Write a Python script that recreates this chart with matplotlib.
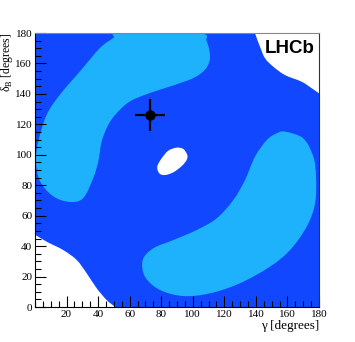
import numpy as np
import matplotlib.pyplot as plt
from matplotlib.path import Path
from matplotlib.patches import PathPatch
from matplotlib.ticker import MultipleLocator

plt.rcParams['mathtext.fontset'] = 'custom'
plt.rcParams['mathtext.rm'] = 'Liberation Serif'

# contour boundaries (gamma, delta_B) in degrees
upper_g = [53.9, 103.3, 108.8, 110.9, 107.7, 100.3, 87.7, 72.9, 60.2, 51.8, 46.5, 42.3,
           40.1, 36.9, 30.6, 22.2, 11.6, 3.2, 0.6, 2.1, 7.4, 15.8, 28.5, 41.2, 49.6]
upper_d = [180.0, 180.0, 174.5, 163.6, 155.9, 150.4, 145.6, 140.6, 135.1, 127.4, 119.8, 108.9,
           95.7, 84.7, 71.6, 69.0, 72.7, 82.6, 95.7, 108.9, 126.3, 139.5, 154.8, 170.2, 176.7]

lower_g = [158.4, 170.0, 176.4, 178.1, 177.5, 172.2, 161.6, 148.9, 129.9, 110.9, 94.0, 79.2,
           69.7, 68.3, 75.0, 87.7, 102.5, 115.2, 125.7, 133.1, 139.4, 146.9, 153.2]
lower_d = [115.2, 110.8, 98.7, 85.6, 68.1, 52.8, 37.4, 26.5, 15.6, 9.0, 7.2, 11.2,
           19.9, 30.9, 38.6, 44.0, 50.6, 58.3, 70.3, 83.4, 98.7, 109.7, 114.1]

hole_g = [96.5, 94.0, 89.8, 84.5, 80.3, 77.5, 78.8, 82.4, 87.7, 93.0, 96.1]
hole_d = [99.9, 103.8, 104.7, 102.7, 97.7, 92.2, 87.8, 86.7, 88.5, 92.6, 96.6]

# excluded corners (open curves, closed through the plot corner)
tr_g = [138.8, 139.4, 142.6, 145.8, 151.0, 158.4, 169.0, 175.4, 180.0, 182.0]
tr_d = [183.0, 180.0, 171.0, 163.4, 157.9, 152.4, 148.0, 143.7, 140.4, 139.3]
bl_g = [-2.0, 0.0, 7.4, 17.9, 26.4, 32.8, 39.1, 45.4, 50.7, 51.5]
bl_d = [48.3, 47.5, 42.9, 37.4, 30.9, 22.1, 12.3, 4.6, 0.0, -2.0]

best_g, best_d = 73.0, 126.0
err_g, err_d = 9.5, 10.6

dark = '#1148ff'
light = '#1eb2fc'


def smooth_path(xs, ys, closed=True, corners=()):
    P = np.column_stack([xs, ys])
    n = len(P)
    verts = [P[0]]
    codes = [Path.MOVETO]
    segs = n if closed else n - 1
    for i in range(segs):
        p0 = P[i - 1] if (closed or i > 0) else P[i]
        p1 = P[i]
        p2 = P[(i + 1) % n]
        p3 = P[(i + 2) % n] if (closed or i + 2 < n) else p2
        verts += [p1 + (p2 - p0) / 6, p2 - (p3 - p1) / 6, p2]
        codes += [Path.CURVE4] * 3
    for c in corners:
        verts.append(c)
        codes.append(Path.LINETO)
    verts.append(P[0])
    codes.append(Path.CLOSEPOLY)
    return Path(verts, codes)


fig = plt.figure(figsize=(3.55, 3.42), dpi=100)
ax = fig.add_axes([0.0986, 0.1023, 0.8, 0.8012])
ax.set_facecolor(dark)

ax.add_patch(PathPatch(smooth_path(upper_g, upper_d), fc=light, lw=0))
ax.add_patch(PathPatch(smooth_path(lower_g, lower_d), fc=light, lw=0))
ax.add_patch(PathPatch(smooth_path(hole_g, hole_d), fc='white', lw=0))
ax.add_patch(PathPatch(smooth_path(tr_g, tr_d, closed=False, corners=[(185, 185)]),
                       fc='white', lw=0))
ax.add_patch(PathPatch(smooth_path(bl_g, bl_d, closed=False, corners=[(-5, -5)]),
                       fc='white', lw=0))

ax.errorbar([best_g], [best_d], xerr=[err_g], yerr=[err_d], fmt='o', color='black',
            ms=6.5, elinewidth=1.6, capsize=0, zorder=5)

ax.set_xlim(0, 180)
ax.set_ylim(0, 180)
ax.xaxis.set_major_locator(MultipleLocator(20))
ax.yaxis.set_major_locator(MultipleLocator(20))
ax.xaxis.set_minor_locator(MultipleLocator(5))
ax.yaxis.set_minor_locator(MultipleLocator(5))
ax.set_xticks([20, 40, 60, 80, 100, 120, 140, 160, 180])
ax.tick_params(which='both', direction='in', top=False, right=False, width=0.8,
               labelsize=8, pad=2)
ax.tick_params(which='major', length=8)
ax.tick_params(which='minor', length=4)
for lab in ax.get_xticklabels() + ax.get_yticklabels():
    lab.set_family('Liberation Serif')
ax.spines['top'].set_color('#888888')
ax.spines['right'].set_color('#333333')

ax.set_xlabel('γ [degrees]', family='Liberation Serif', fontsize=9.5,
              loc='right', labelpad=1)
ax.set_ylabel(r'δ$_\mathregular{B}$ [degrees]', family='Liberation Serif', fontsize=8.5,
              loc='top')
ax.yaxis.set_label_coords(-0.07, 1.0)

ax.text(0.985, 0.975, 'LHCb', transform=ax.transAxes, ha='right', va='top',
        fontsize=13.5, fontweight='bold', family='Liberation Sans')

fig.savefig('out.png', dpi=100)
